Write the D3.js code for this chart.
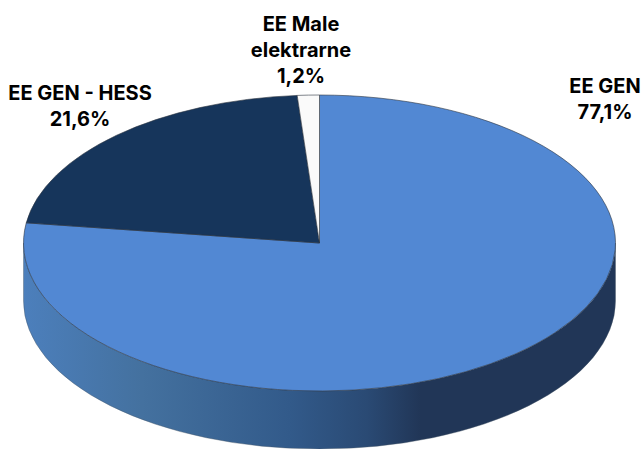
<!DOCTYPE html>
<html>
<head>
<meta charset="utf-8">
<script src="https://cdn.jsdelivr.net/npm/d3@7/dist/d3.min.js"></script>
<style>
html, body { margin: 0; padding: 0; background: #fff; }
svg { display: block; }
text { font-family: Inter, Lato, sans-serif; font-weight: 700; font-size: 20px; fill: #000; text-anchor: middle; }
</style>
</head>
<body>
<script>
var categories = ["EE GEN", "EE GEN - HESS", "EE Male elektrarne"];
var values = [77.1, 21.6, 1.2];
var valueLabels = ["77,1%", "21,6%", "1,2%"];
var colors = ["#5288d3", "#16355b", "#fafafa"];

// label text lines, one list per slice
var labelLines = [
	["EE GEN", "77,1%"],
	["EE GEN - HESS", "21,6%"],
	["EE Male", "elektrarne", "1,2%"]
];
var labelAnchors = [[605, 93], [80, 100], [301, 31]];

var width = 644,
	height = 449,
	cx = 319.5,
	cy = 243,
	rx = 296,
	ry = 148,
	depth = 58;

var svg = d3.select("body").append("svg")
	.attr("width", width)
	.attr("height", height);

var grad = svg.append("defs").append("linearGradient")
	.attr("id", "side")
	.attr("gradientUnits", "userSpaceOnUse")
	.attr("x1", cx - rx).attr("x2", cx + rx)
	.attr("y1", 0).attr("y2", 0);

grad.selectAll("stop")
	.data([[0, "#4c7fbc"], [0.2, "#44719f"], [0.45, "#325a8a"], [0.58, "#2a4a74"], [0.67, "#213657"], [1, "#213657"]])
  .enter().append("stop")
	.attr("offset", function(d) { return d[0]; })
	.attr("stop-color", function(d) { return d[1]; });

// the wall under the front half of the pie
svg.append("path")
	.attr("d", "M" + (cx - rx) + "," + cy
		+ " A" + rx + "," + ry + " 0 0 0 " + (cx + rx) + "," + cy
		+ " V" + (cy + depth)
		+ " A" + rx + "," + ry + " 0 0 1 " + (cx - rx) + "," + (cy + depth)
		+ " Z")
	.attr("fill", "url(#side)")
	.attr("stroke", "#4a5868")
	.attr("stroke-width", 0.4);

var pie = d3.pie().sort(null).value(function(d) { return d; });
var arc = d3.arc().innerRadius(0).outerRadius(rx);

// top face: a circle squashed into the ellipse
svg.append("g")
	.attr("transform", "translate(" + cx + "," + cy + ") scale(1," + (ry / rx) + ")")
  .selectAll("path")
	.data(pie(values))
  .enter().append("path")
	.attr("d", arc)
	.attr("fill", function(d, i) { return colors[i]; })
	.attr("stroke", "#2b3440")
	.attr("stroke-width", 0.6)
	.attr("vector-effect", "non-scaling-stroke");

var labels = svg.append("g").selectAll("text")
	.data(labelLines)
  .enter().append("text")
	.attr("transform", function(d, i) { return "translate(" + labelAnchors[i][0] + "," + labelAnchors[i][1] + ")"; });

labels.selectAll("tspan")
	.data(function(d) { return d; })
  .enter().append("tspan")
	.attr("x", 0)
	.attr("y", function(d, i) { return i * 26; })
	.text(function(d) { return d; });
</script>
</body>
</html>
